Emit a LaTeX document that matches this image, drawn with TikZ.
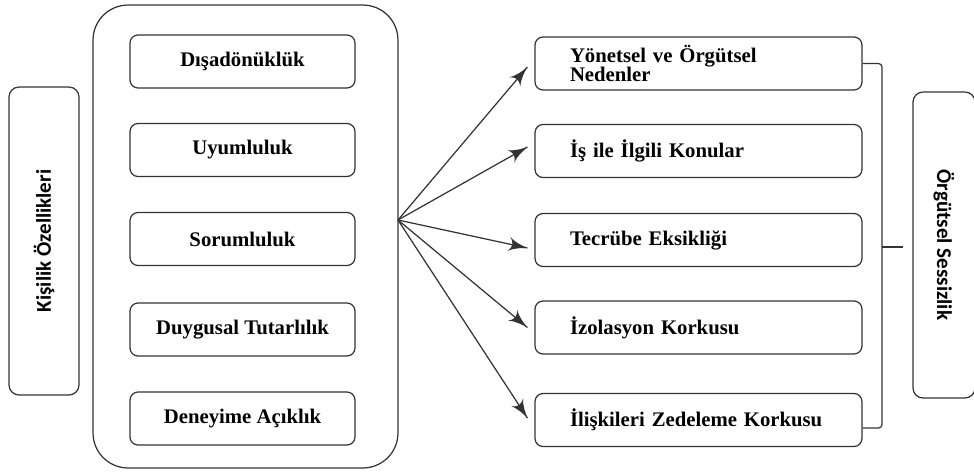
\documentclass[tikz,border=0pt]{standalone}
\usepackage{fontspec}
\setmainfont{Liberation Serif}
\newfontfamily\calibri{Carlito}
\usetikzlibrary{arrows}
\usetikzlibrary{decorations.markings}
\usetikzlibrary{positioning}
\tikzset{pointer/.style = {decoration={markings,
                                       mark=at position 1 with {\arrow[scale=2.2]{latex'}}},
                           postaction={decorate}}}
\tikzset{trait/.style = {draw, rounded corners=0.16cm, minimum width=4.5cm,
                         minimum height=1.06cm,
                         font=\rmfamily\fontsize{11.8}{13}\selectfont\bfseries}}
\tikzset{cause/.style = {draw, rounded corners=0.16cm, minimum width=6.54cm,
                         minimum height=1.06cm, text width=5.14cm, inner xsep=0.7cm,
                         align=left, font=\rmfamily\fontsize{11.8}{11.3}\selectfont\bfseries}}
\tikzset{side/.style = {draw, rounded corners=0.2cm,
                        font=\calibri\fontsize{12}{14}\selectfont\bfseries}}

\begin{document}
\begin{tikzpicture}[x=0.02cm, y=-0.02cm, line width=0.7pt, draw=black!80]
      \useasboundingbox (0, 0) rectangle (974, 471);
      % left side
      \node [side, rotate=90, minimum width=6.16cm, minimum height=1.4cm] (kisilik) at (44, 241) {Kişilik Özellikleri};
      \node [draw, rounded corners=0.7cm, minimum width=6.1cm, minimum height=9.26cm] (traits) at (245.5, 236.5) {};
      \node [trait] (disa) at (242.5, 61.5) {Dışadönüklük};
      \node [trait] (uyum) at (242.5, 150) {Uyumluluk};
      \node [trait] (sorum) at (242.5, 239) {Sorumluluk};
      \node [trait] (duygu) at (242.5, 329.5) {Duygusal Tutarlılık};
      \node [trait] (deney) at (242.5, 418.5) {Deneyime Açıklık};
      % right side
      \node [cause] (yonet) at (698.5, 63.5) {Yönetsel ve Örgütsel\\Nedenler};
      \node [cause] (isile) at (698.5, 151) {İş ile İlgili Konular};
      \node [cause] (tecrube) at (698.5, 240) {Tecrübe Eksikliği};
      \node [cause] (izol) at (698.5, 327.5) {İzolasyon Korkusu};
      \node [cause] (iliski) at (698.5, 420) {İlişkileri Zedeleme Korkusu};
      \node [side, rotate=-90, minimum width=6.12cm, minimum height=1.24cm] (sessizlik) at (944, 245) {Örgütsel Sessizlik};
      % arrows
      \coordinate (hub) at (398, 220);
      \draw [pointer] (hub) -- ([xshift=-0.14cm, yshift=-0.07cm]yonet.west);
      \draw [pointer] (hub) -- ([xshift=-0.14cm, yshift=0.08cm]isile.west);
      \draw [pointer] (hub) -- ([xshift=-0.14cm, yshift=-0.16cm]tecrube.west);
      \draw [pointer] (hub) -- ([xshift=-0.14cm]izol.west);
      \draw [pointer] (hub) -- ([xshift=-0.14cm, yshift=0.04cm]iliski.west);
      % brace
      \coordinate (brace) at (882, 247);
      \coordinate (tick) at (903, 247);
      \draw [rounded corners=2pt] (yonet.east) -| (brace) |- ([yshift=-0.16cm]iliski.east);
      \draw (brace) -- (tick);
\end{tikzpicture}
\end{document}
